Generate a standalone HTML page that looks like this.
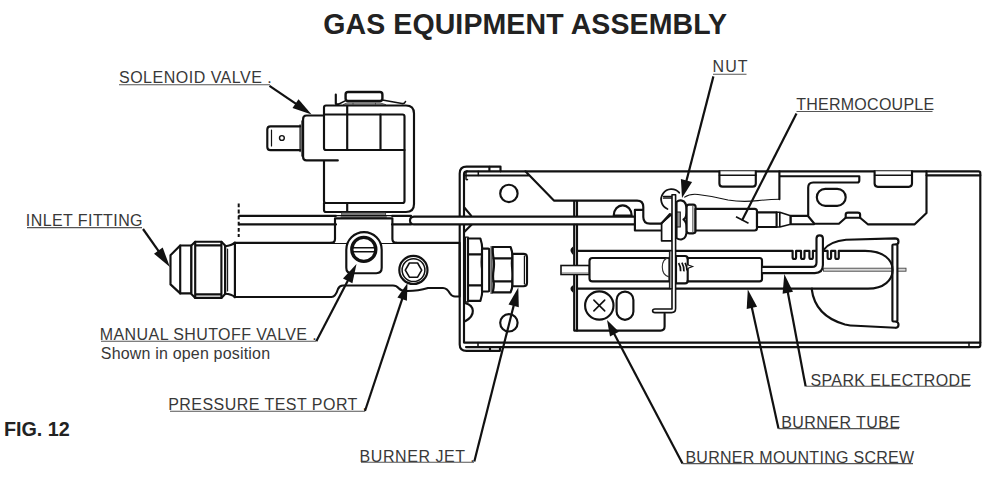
<!DOCTYPE html>
<html><head><meta charset="utf-8"><title>Gas Equipment Assembly</title>
<style>
html,body{margin:0;padding:0;background:#fff;width:1000px;height:494px;overflow:hidden}
svg{position:absolute;left:0;top:0;display:block}
text{font-family:"Liberation Sans",sans-serif;fill:#383838}
.lb{font-size:16px}
.ul{stroke:#555;stroke-width:1.1;fill:none}
.ld{stroke:#111;stroke-width:2.2;fill:none}
.ah{fill:#111;stroke:none}
.s{stroke:#111;stroke-width:2.15;fill:none;stroke-linejoin:round;stroke-linecap:round}
.sw{stroke:#111;stroke-width:2.15;fill:#fff;stroke-linejoin:round;stroke-linecap:round}
.t{stroke:#111;stroke-width:1.2;fill:none;stroke-linejoin:round;stroke-linecap:round}
.g{stroke:#111;stroke-width:1.2;fill:#8a8a8a}
</style></head>
<body>
<svg width="1000" height="494" viewBox="0 0 1000 494">
<rect width="1000" height="494" fill="#fff"/>
<!-- ===== SOLENOID ===== -->
<g id="solenoid">
<!-- frame (top plate + right side + bottom plate) -->
<path d="M326,105.5 H406 Q414,105.5 414,113.5 V204 Q414,212 406,212 H326 Q324,212 324,210 V107.5 Q324,105.5 326,105.5 Z" fill="#fff"/>
<path class="s" d="M324,114 V107.5 Q324,105.5 326,105.5 H406 Q414,105.5 414,113.5 V204 Q414,212 406,212 H326 Q324,212 324,210 V203"/>
<!-- coil body -->
<path class="sw" d="M324,161 V201 Q324,203 326,203 H402.5 Q404.5,203 404.5,201 V150"/>
<path class="sw" d="M324,114.5 H402.5 Q404.5,114.5 404.5,116.5 V150 H326 Q324,150 324,148 Z"/>
<line class="s" x1="347.2" y1="105.5" x2="347.2" y2="150"/>
<line class="s" x1="380.5" y1="114.5" x2="380.5" y2="150"/>
<line class="s" x1="347.2" y1="203" x2="347.2" y2="212"/>
<!-- gasket under cap -->
<path d="M343,104.7 L347,102.9 H380 L386,104.7 Z" style="fill:#aaa;stroke:#333;stroke-width:0.8"/>
<path d="M353,102.9 V104.7 M375.5,102.9 V104.7" style="stroke:#333;stroke-width:0.8"/>
<!-- cap -->
<rect class="sw" x="345.6" y="92" width="36.8" height="9" rx="2.5" style="stroke-width:2.4"/>
<path class="s" d="M335.8,94.5 V103.5 Q336,104.8 338,104.3"/>
<path class="t" d="M338,104.5 L345.6,100.6 M382.4,100 L402,103.5 Q404.5,104 405.5,101.5" style="stroke-width:1.6"/>
<!-- spade connector body -->
<path class="s" d="M324,115.5 H306.5 Q303.1,115.5 303.1,119 V157 Q303.1,160.4 306.5,160.4 H337.8"/>
<!-- spade -->
<path class="sw" d="M300.1,126.4 H270.5 Q267.3,126.4 267.3,129.6 V146.9 Q267.3,150.1 270.5,150.1 H300.1"/>
<line class="t" x1="271.5" y1="130" x2="271.5" y2="146"/>
<path class="s" d="M300.1,125 V151.5 M302,121 V156" style="stroke-width:1.3"/>
<circle class="s" cx="281.9" cy="138" r="2.4" style="stroke-width:1.4"/>
</g>

<!-- ===== GASKET under solenoid ===== -->
<rect x="341.7" y="212.4" width="44" height="3" style="fill:#7a7a7a;stroke:#222;stroke-width:0.7"/>
<rect x="340.6" y="216" width="46.2" height="2.2" style="fill:#8a8a8a;stroke:none"/>
<line class="s" x1="336" y1="215.6" x2="392" y2="215.6" style="stroke-width:1.1"/>
<!-- ===== VALVE BODY ===== -->
<g id="valvebody">
<path class="sw" d="M234.7,242.9 H459.7 V296.5 H455 Q452,296.5 450,293.5 Q447,288 443,288 H428 Q418,291.2 406,291 Q401,290.8 398.5,288 Q396.5,285.5 393,285.5 H343 Q339.5,285.5 338,289 Q335.5,297 331.5,297 H234.7 Z"/>
<!-- top block -->
<path class="sw" d="M331,242.9 Q335,242.9 335,239 V218.4 H392.4 V239 Q392.4,242.9 396.5,242.9"/>
</g>
<!-- manual shutoff knob -->
<path class="sw" d="M346.3,249.8 A17.7,17.7 0 0 1 381.7,249.8 V267.8 Q381.7,273.2 376.3,273.2 H351.7 Q346.3,273.2 346.3,267.8 Z"/>
<circle cx="363.8" cy="249.4" r="12" style="fill:#fff;stroke:#111;stroke-width:3.4"/>
<path class="s" d="M352.5,247.8 H375.1 M352.5,251.8 H375.1" style="stroke-width:1.6"/>
<!-- pressure test port -->
<circle class="sw" cx="413.4" cy="269.9" r="14.1"/>
<circle class="s" cx="413.5" cy="270.1" r="11.4" style="stroke-width:1.5"/>
<path class="s" d="M421.7,270.1 L417.6,277.2 L409.4,277.2 L405.3,270.1 L409.4,263 L417.6,263 Z" style="stroke-width:1.6"/>
<!-- ===== INLET FITTING ===== -->
<g id="inlet">
<path class="sw" d="M225.1,246.2 Q231.5,246 234.9,242.6 V297.3 Q231.5,294 225.1,293.8 Z"/>
<line class="s" x1="227.6" y1="249" x2="227.6" y2="291" style="stroke-width:1.1"/>
<path class="sw" d="M191.4,245.5 H180.2 L170.5,255.2 V284.4 L180.2,293.4 H191.4 Z"/>
<line class="s" x1="180.2" y1="245.5" x2="180.2" y2="293.4"/>
<path class="sw" d="M195.2,241.7 H221.4 L225.1,245.5 V294.1 L221.4,297.9 H195.2 L191.4,294.1 V245.5 Z"/>
<path class="s" d="M195.2,241.7 V297.9 M221.4,241.7 V297.9 M195.2,245.3 H221.4 M195.2,294.3 H221.4"/>
</g>
<!-- ===== BURNER BOX ===== -->
<g id="box">
<path class="s" d="M459.7,344.5 V173.4 Q459.7,166.6 466.5,166.6 H500.5 V171.3 H978.6 Q980.3,171.3 980.3,173 V345.3 Q980.3,347.1 978.5,347.1 H500 V350.8 H466.5 Q459.7,350.8 459.7,344.5 Z"/>
<path class="s" d="M464,342.6 V174.3 Q464,171.3 467,171.3 M464,342.6 H980.3"/>
<path class="s" d="M467,171.3 H500.5 M489.4,166.8 V171.3 M466,347.1 H500 M490,347.1 V350.6"/>
<!-- top-left flange -->
<path class="s" d="M466,175.5 H529.5 M525.4,171.3 L553.9,200.6 H637 Q643.3,200.6 643.3,207 V217 Q643.3,223.6 650,223.6 H661.6"/>
<path class="s" d="M478.3,171.3 V175.5 M466,172 V179 Q466,180 467.5,179.5" style="stroke-width:1.5"/>
<!-- bottom flange divider -->
<path class="s" d="M478,342.6 V347.1 M969,342.6 V347.1" style="stroke-width:1.5"/>
<!-- circles (holes) -->
<circle class="s" cx="508.9" cy="193.4" r="8.7"/>
<circle class="s" cx="508.9" cy="322.8" r="8.7"/>
<!-- top-right flange -->
<path class="s" d="M926.5,171.3 V213 L914.7,224.3 H867.8 L860.1,217.7 H845.7 L838.9,223.7 H814.4 L808.2,216.3 V187.5 Q808.2,182.5 813.2,182.5 H857.3 Q859.3,182.5 859.3,180.5 V176.2 H779.4 M779.4,171.3 V199.2"/>
<path class="s" d="M926.5,175.3 H980.3"/>
<path class="s" d="M845.7,217.7 V214.6 Q845.7,212.6 848,212.6 H857.8 Q860.1,212.6 860.1,214.6 V217.7"/>
<rect class="s" x="816.8" y="188.8" width="28.9" height="17" rx="8.5"/>
<!-- tabs -->
<path class="sw" d="M719.4,171.3 V183.5 Q719.4,186.6 722.5,186.6 H752.7 Q755.8,186.6 755.8,183.5 V171.3"/>
<path class="s" d="M719.4,175.3 H755.8" style="stroke-width:1.5"/>
<path class="sw" d="M874.6,171.3 V183.6 Q874.6,186.8 877.8,186.8 H908.8 Q912,186.8 912,183.6 V171.3"/>
<path class="s" d="M874.6,175.3 H912" style="stroke-width:1.5"/>
<!-- left inner bracket -->
<path class="s" d="M464.5,207.8 L471.1,215.6 M464.5,231.8 L471.7,224.4"/>
<path class="s" d="M465.5,303.2 C474.5,305.5 476,315 465.5,321"/>
</g>

<!-- ===== TUBE (pilot/thermo lead) ===== -->
<g id="tube">
<line class="s" x1="239.3" y1="215.8" x2="336" y2="215.8"/>
<line class="s" x1="239.3" y1="224.4" x2="336" y2="224.4"/>
<line class="s" x1="392" y1="215.8" x2="411" y2="215.8"/>
<line class="s" x1="392" y1="224.4" x2="411" y2="224.4"/>
<path class="sw" d="M414,216.6 Q410,216.8 410,220.5 Q410,224.4 414,224.4 H634.7 V216.6 Z" style="stroke:none"/>
<path class="s" d="M414,216.6 Q410,216.8 410,220.5 Q410,224.4 414,224.4 H634.7 M414,216.6 H634.7"/>
<!-- dashed mark -->
<line class="s" x1="238.7" y1="203.5" x2="238.7" y2="237" style="stroke-dasharray:3.8 2.3;stroke-linecap:butt;stroke-width:2"/>
</g>
<!-- ===== BURNER JET ===== -->
<g id="jet">
<path class="sw" d="M465.4,237.2 V302 H468.2 V237.2 Z" style="stroke-width:1.3"/>
<path class="sw" d="M468,238.5 H480.4 Q483,246 482.2,254.3 Q481,262 482.2,270 Q483,278 482.2,285.4 Q483,293 480.4,300.8 H468 Z"/>
<path class="s" d="M468,254.3 H481.7 M468,285.4 H481.7"/>
<rect class="sw" x="482" y="248.6" width="7.2" height="42.9" rx="1"/>
<path d="M491.6,246 V294" style="stroke:#666;stroke-width:2.4"/>
<path class="sw" d="M492.8,247 H510.6 Q513,253 512.2,258.4 Q511.4,264 512.4,270 Q513.2,276 512.2,281.4 Q513,287 510.6,292.3 H492.8 Q494.5,285 493.5,281.4 Q492.6,276 493.6,270 Q494.5,264 493.6,258.4 Q492.6,253 492.8,247 Z"/>
<path class="s" d="M493.6,258.4 H512.2 M493.6,281.4 H512.2"/>
<path class="sw" d="M512.5,253.9 H523.5 Q527,253.9 527,257.4 V282.7 Q527,286.2 523.5,286.2 H512.5 Z"/>
<line class="s" x1="524.4" y1="256" x2="524.4" y2="284" style="stroke-width:1.2"/>
</g>
<!-- ===== RACK (inner plate) ===== -->
<g id="rack">
<path class="s" d="M574.2,201 V215.5 M577,201 V215.5"/>
<path class="s" d="M574.2,224.7 V330.6 H660.6 Q664.6,330.6 664.6,326.6 V313.8"/>
<path class="s" d="M577,224.7 V330.6"/>
<path d="M572.4,248 q-2.5,2 0,5 z M572.4,286.6 q-2.5,2 0,4.5 z" style="fill:#111;stroke:#111;stroke-width:1.4"/>
<path class="s" d="M577,250.9 H670.5 M577,288.6 H670.5 M676,288.6 H812"/>
<!-- screw -->
<circle class="sw" cx="599.3" cy="305.5" r="14.2"/>
<path class="s" d="M593.9,300.1 L604.7,310.9 M604.7,300.1 L593.9,310.9" style="stroke-width:1.6"/>
<rect class="s" x="616.6" y="291.6" width="16.8" height="28.2" rx="8.4"/>
</g>
<!-- semicircle on tube -->
<path class="sw" d="M613.7,215.6 A9,10.3 0 0 1 631.7,215.6 Z"/>
<!-- tube end fitting / bracket -->
<path class="s" d="M642.5,209.9 H634.9 V230.5 H661.6"/>
<path class="sw" d="M661.6,223.2 V240.8 H672 V214.1 Z" style="stroke-width:1.7"/>
<path class="s" d="M661.6,223.2 L670,214.1"/>
<!-- ===== BURNER TUBE ===== -->
<g id="burner">
<!-- stub -->
<rect x="561" y="265.5" width="28.5" height="9" style="fill:#fff;stroke:#111;stroke-width:1.6"/>
<line x1="562" y1="273" x2="589" y2="273" style="stroke:#999;stroke-width:1.4"/>
<path class="sw" d="M669.5,258 H592.5 Q589.5,258 589.5,261 V278.4 Q589.5,281.4 592.5,281.4 H669.5 Z"/>
<path d="M668.8,257.4 Q662.3,259 662.3,267 Q662.3,275 668.8,276.9" style="fill:none;stroke:#333;stroke-width:1.1"/>
<!-- insulator body right of plate -->
<path class="sw" d="M676,256 H685 Q687.7,256 687.7,258.7 V258 H759.5 Q762,258 762,260.5 V279 Q762,281.4 759.5,281.4 H687.7 V280.7 Q687.7,283.4 685,283.4 H676 Z"/>
<path class="s" d="M687.7,258 V281.4"/>
<!-- screw threads -->
<path d="M678.6,263 Q680.8,266.5 680.6,271.2 M681.9,262.6 Q684.1,266.5 683.9,271.4 M685.1,262.8 Q687,266.3 686.9,270.6" style="fill:none;stroke:#111;stroke-width:1.7"/>
<path d="M687.5,264.8 L692.6,266.6 L687.5,268.4" style="fill:#fff;stroke:#111;stroke-width:1.1"/>
<!-- spark electrode rod -->
<path class="sw" d="M762.5,266.9 H812 Q816.5,266.9 816.5,262.4 V238.6 Q816.5,235.4 819.7,235.4 Q822.9,235.4 822.9,238.6 V265 Q822.9,273.1 814.8,273.1 H762.5"/>
<rect x="823.5" y="268.2" width="82.5" height="3" style="fill:#d8d8d8;stroke:#444;stroke-width:0.9"/>
</g>
<!-- vertical plate with foot -->
<path class="sw" d="M672,194.8 H675.6 V308.5 Q675.6,312.6 671.5,312.6 H655 Q652.6,312.6 652.6,310.8 Q652.6,309 655,309 H672 Z" style="stroke-width:1.6"/>
<rect x="669.4" y="250.9" width="2.6" height="37.7" style="fill:#999;stroke:#111;stroke-width:1"/>
<!-- round bracket & tab at top of plate -->
<path class="s" d="M679.2,192.7 A10.3,10.3 0 1 0 667.5,209" style="stroke-width:1.8"/>
<path class="s" d="M663.5,196.5 H671.5 M663.5,198.2 H671.5" style="stroke-width:1.3"/>
<!-- nut (lobed) -->
<path class="sw" d="M676.5,202 Q679,199.8 682,200.6 Q686.5,201.5 686.6,210 Q686.8,218 683.5,219.5 Q687,222 686.8,230 Q686.5,238.5 682,239.3 Q679,240 676.5,238 Z"/>
<rect x="677" y="212" width="3.3" height="15" style="fill:#999;stroke:#111;stroke-width:1"/>
<!-- thermocouple flange + body -->
<rect class="sw" x="686.6" y="204.6" width="9" height="28.7" rx="2.5"/>
<line x1="692.8" y1="206" x2="692.8" y2="232" style="stroke:#888;stroke-width:1.6"/>
<path class="sw" d="M695.5,208.8 H754.5 Q757,208.8 757,211.3 V228 Q757,230.5 754.5,230.5 H695.5 Z"/>
<path class="sw" d="M757,212.3 H776.6 V227 H757 Z"/>
<path class="s" d="M776.6,212.3 H779.8 L790.6,215.8 V224.2 L779.8,227 H776.6 M779.8,212.3 V227" style="stroke-width:1.6"/>
<path class="s" d="M808,215.8 H790.6 V224.2 H814"/>
<!-- thermocouple wire -->
<path d="M684.2,197.4 Q690,193.5 698,194.5 Q712,196 728,200 Q742,202.5 758,200.6 Q770,199.3 779.4,199.2" style="fill:none;stroke:#111;stroke-width:1.1"/>
<!-- ===== FLAME SPREADER (right) ===== -->
<g id="spreader">
<!-- upper -->
<path class="s" d="M823.6,249.8 Q830,241.5 846,239.8 L895,238.4 Q898.5,238.4 898.5,241.5 Q898.5,244.8 895,244.8"/>
<!-- burner tube right end -->

<!-- lower -->
<path class="s" d="M811.7,289 Q815,316 845,324.5 Q850,325.7 856,325.8 L895.5,327.8 Q898.5,327.8 898.5,324.8 Q898.5,322 896,321.5"/>
<!-- vertical bar -->
<rect class="sw" x="892.4" y="244.5" width="5" height="77" rx="1"/>
</g>
<!-- comb teeth on burner tube top -->
<path class="s" d="M676,250.9 H792.6 V257.2 Q792.6,259.0 794.35,259.0 Q796.1,259.0 796.1,257.2 V250.9 H801.0 V257.2 Q801.0,259.0 802.75,259.0 Q804.5,259.0 804.5,257.2 V250.9 H809.4 V257.2 Q809.4,259.0 811.15,259.0 Q812.9,259.0 812.9,257.2 V250.9 H815.5"/>
<path class="s" d="M823,250.9 H827.6 V257.2 Q827.6,259.0 829.35,259.0 Q831.1,259.0 831.1,257.2 V250.9 H835.3 V257.2 Q835.3,259.0 837.05,259.0 Q838.8,259.0 838.8,257.2 V250.9 H865 C884,251 892.6,260 892.6,270 C892.6,280 884,288.6 868,288.6 H812"/>

<!-- TITLE -->
<text transform="translate(323.2,34.1) scale(1,1.03)" x="0" y="0" style="font-size:28.5px;font-weight:bold;fill:#222;letter-spacing:0.11px">GAS EQUIPMENT ASSEMBLY</text>
<text x="3.9" y="435.9" style="font-size:19.8px;font-weight:bold;fill:#222">FIG. 12</text>
<!-- LABELS -->
<g class="lb">
<text x="119" y="83.2" style="letter-spacing:0.5px">SOLENOID VALVE .</text>
<text x="25.8" y="225.8" style="letter-spacing:0.42px">INLET FITTING</text>
<text x="99.8" y="339.6" style="letter-spacing:0.41px">MANUAL SHUTOFF VALVE .</text>
<text x="100.8" y="359.1" style="letter-spacing:0.18px">Shown in open position</text>
<text x="168.2" y="410.4" style="letter-spacing:0.46px">PRESSURE TEST PORT .</text>
<text x="359.6" y="461.5" style="letter-spacing:0.56px">BURNER JET .</text>
<text x="685.4" y="463.2" style="letter-spacing:0.28px">BURNER MOUNTING SCREW</text>
<text x="781.2" y="428.1" style="letter-spacing:0.45px">BURNER TUBE</text>
<text x="810.4" y="385.6" style="letter-spacing:0.39px">SPARK ELECTRODE</text>
<text x="712.5" y="72.2" style="letter-spacing:1.1px">NUT</text>
<text x="796.2" y="109.8" style="letter-spacing:0.26px">THERMOCOUPLE</text>
</g>
<g class="ul">
<line x1="119" y1="84.8" x2="270" y2="84.8"/>
<line x1="27" y1="227.6" x2="142" y2="227.6"/>
<line x1="101" y1="341.3" x2="316" y2="341.3"/>
<line x1="170" y1="411.3" x2="365" y2="411.3"/>
<line x1="361" y1="462.3" x2="474" y2="462.3"/>
<line x1="682.5" y1="463.6" x2="913" y2="463.6"/>
<line x1="778.5" y1="428.6" x2="899" y2="428.6"/>
<line x1="805.6" y1="386.3" x2="970" y2="386.3"/>
<line x1="713" y1="74.2" x2="746.5" y2="74.2"/>
<line x1="796.5" y1="111.5" x2="932.5" y2="111.5"/>
</g>
<!-- LEADERS -->
<line class="ld" x1="269.5" y1="85.8" x2="297.2" y2="104.7"/><path class="ah" d="M311.6,114.6 L292.5,108.0 L298.5,99.2 Z"/>
<line class="ld" x1="143.0" y1="229.0" x2="159.5" y2="252.3"/><path class="ah" d="M169.9,267.0 L154.0,253.7 L162.7,247.6 Z"/>
<line class="ld" x1="316.3" y1="341.3" x2="348.7" y2="279.1"/><path class="ah" d="M356.5,264.0 L352.4,283.3 L343.0,278.4 Z"/>
<line class="ld" x1="365.0" y1="411.0" x2="402.8" y2="297.2"/><path class="ah" d="M407.5,283.0 L406.9,300.7 L397.4,297.6 Z"/>
<line class="ld" x1="474.3" y1="461.5" x2="514.1" y2="304.0"/><path class="ah" d="M518.3,287.5 L518.8,307.2 L508.5,304.6 Z"/>
<line class="ld" x1="682.5" y1="463.6" x2="613.5" y2="332.4"/><path class="ah" d="M607.0,320.0 L618.9,331.8 L610.0,336.5 Z"/>
<line class="ld" x1="778.5" y1="428.6" x2="751.5" y2="306.0"/><path class="ah" d="M747.8,289.4 L757.1,306.8 L746.7,309.1 Z"/>
<line class="ld" x1="805.6" y1="386.3" x2="787.5" y2="290.7"/><path class="ah" d="M784.3,274.0 L793.0,291.7 L782.6,293.7 Z"/>
<line class="ld" x1="713.4" y1="76.4" x2="686.0" y2="182.5"/><path class="ah" d="M682.0,198.0 L680.9,179.1 L692.1,182.0 Z"/>
<line class="ld" x1="796.5" y1="113.6" x2="742" y2="220.5"/>
<line class="ld" x1="736" y1="216.8" x2="748.5" y2="223.2" style="stroke-width:1.6"/>
</svg>
</body></html>
